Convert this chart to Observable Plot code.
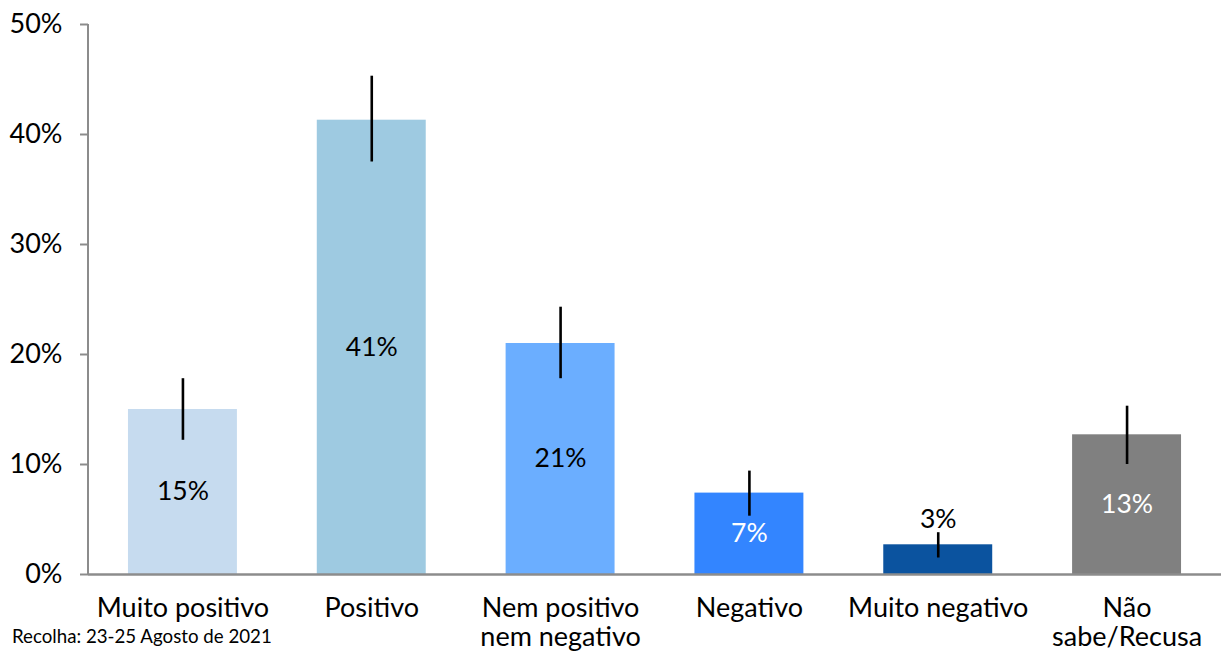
<!DOCTYPE html>
<html>
<head>
<meta charset="utf-8">
<script src="https://cdn.jsdelivr.net/npm/d3@7"></script>
<script src="https://cdn.jsdelivr.net/npm/@observablehq/plot@0.6"></script>
<style>
  html, body { margin: 0; padding: 0; background: #fff; }
  #wrap { position: relative; width: 1221px; height: 653px; font-family: Lato, "Open Sans", sans-serif; }
  #caption { position: absolute; left: 12px; top: 625px; font-size: 18.7px; line-height: 22px; color: #000; }
</style>
</head>
<body>
<div id="wrap">
  <div id="chart"></div>
  <div id="caption">Recolha: 23-25 Agosto de 2021</div>
</div>
<script>
const categories = ["Muito positivo", "Positivo", "Nem positivo\nnem negativo", "Negativo", "Muito negativo", "Não\nsabe/Recusa"];
const values = [15, 41.3, 21, 7.4, 2.7, 12.7];
const errLow = [12.2, 37.5, 17.8, 5.3, 1.5, 10.0];
const errHigh = [17.8, 45.3, 24.3, 9.4, 3.8, 15.3];
const valueLabels = ["15%", "41%", "21%", "7%", "3%", "13%"];
const yTicks = [0, 10, 20, 30, 40, 50];

const barColors = ["#c6dbef", "#9ecae1", "#6baeff", "#3385ff", "#0b539f", "#808080"];
const labelColors = ["#000", "#000", "#000", "#fff", "#000", "#fff"];

const data = categories.map((c, i) => ({
  cat: c, value: values[i], lo: errLow[i], hi: errHigh[i],
  label: valueLabels[i], color: barColors[i], tcolor: labelColors[i]
}));
const inside = data.filter(d => d.value >= 5);
const outside = data.filter(d => d.value < 5);

const axisColor = "#8c8c8c";

const chart = Plot.plot({
  width: 1221,
  height: 653,
  marginLeft: 88,
  marginRight: 0,
  marginTop: 24,
  marginBottom: 79,
  style: { fontFamily: "Lato, 'Open Sans', sans-serif", background: "transparent" },
  x: { domain: categories, paddingInner: 0.423, paddingOuter: 0.2116, round: false, label: null },
  y: { domain: [0, 50], label: null },
  marks: [
    Plot.barY(data, { x: "cat", y: "value", fill: "color" }),
    Plot.ruleX(data, { x: "cat", y1: "lo", y2: "hi", stroke: "#000", strokeWidth: 2.6 }),
    Plot.text(inside, { x: "cat", y: d => d.value / 2, text: "label", fill: "tcolor", fontSize: 26.5 }),
    Plot.text(outside, { x: "cat", y: "value", text: "label", fill: "tcolor", fontSize: 26.5, dy: -25 }),
    Plot.ruleY([0], { stroke: axisColor, strokeWidth: 2.5 }),
    Plot.axisY({ ticks: yTicks, tickFormat: d => d + "%", tickSize: 8, tickPadding: 18, fontSize: 27, stroke: axisColor, strokeWidth: 2, color: "#000", label: null }),
    Plot.axisX({ tickSize: 0, tickPadding: 22, fontSize: 27, lineHeight: 1.074, label: null, color: "#000" })
  ]
});
document.getElementById("chart").appendChild(chart);

// vertical y-axis line at the left edge of the frame, using the plot's scales
const ys = chart.scale("y");
const xs = chart.scale("x");
d3.select(chart).append("line")
  .attr("x1", xs.range[0]).attr("x2", xs.range[0])
  .attr("y1", ys.range[0]).attr("y2", ys.range[1])
  .attr("stroke", axisColor).attr("stroke-width", 2);
</script>
</body>
</html>
